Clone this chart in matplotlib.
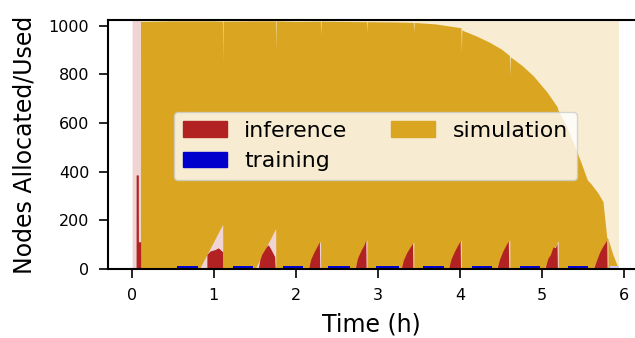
import matplotlib
matplotlib.use("Agg")
import matplotlib.pyplot as plt
from matplotlib.patches import Patch

# simulation: nodes allocated (light) and used (dark), time in hours
sim_alloc_t = [0.104, 5.935]
sim_alloc_v = [1024, 1024]
sim_used_t = [0.104, 0.106, 0.5, 1.0, 1.105, 1.108, 1.112, 1.5, 1.750, 1.754,
              1.758, 2.0, 2.298, 2.302, 2.306, 2.6, 2.862, 2.866, 2.87, 3.2,
              3.43, 3.434, 3.44, 3.7, 4.01, 4.016, 4.02, 4.04, 4.2, 4.36,
              4.5, 4.60, 4.605, 4.61, 4.75, 4.89, 5.06, 5.18, 5.19, 5.3,
              5.38, 5.47, 5.55, 5.59, 5.68, 5.74, 5.786, 5.80, 5.86, 5.93]
sim_used_v = [0, 1018, 1020, 1020, 1019, 848, 1019, 1020, 1020, 900,
              1020, 1018, 1019, 960, 1019, 1018, 1017, 970, 1017, 1016,
              1014, 975, 1014, 1008, 992, 888, 984, 980, 958, 932,
              905, 878, 791, 873, 838, 795, 727, 668, 655, 585,
              518, 440, 366, 352, 312, 277, 130, 125, 60, 0]

# inference: allocated (light) and used (dark)
inf_alloc_t = [0.004, 0.104, 0.105, 0.823, 1.108, 1.109, 1.502, 1.754, 1.755,
               2.14, 2.30, 2.301, 2.71, 2.865, 2.866, 3.27, 3.435, 3.436,
               3.85, 4.015, 4.016, 4.435, 4.605, 4.606, 5.02, 5.195, 5.196,
               5.61, 5.80, 5.801]
inf_alloc_v = [1024, 1024, 0, 0, 184, 0, 0, 167, 0,
               0, 115, 0, 0, 122, 0, 0, 112, 0,
               0, 120, 0, 0, 121, 0, 0, 117, 0,
               0, 125, 0]
inf_used_t = [0.053, 0.054, 0.080, 0.081, 0.108, 0.109,
              0.915, 0.916, 0.954, 1.015, 1.055, 1.096, 1.107, 1.108,
              1.540, 1.560, 1.583, 1.644, 1.665, 1.700, 1.740, 1.748,
              2.151, 2.18, 2.22, 2.26, 2.285, 2.290,
              2.720, 2.75, 2.79, 2.83, 2.850, 2.855,
              3.280, 3.31, 3.35, 3.39, 3.420, 3.425,
              3.857, 3.89, 3.93, 3.97, 4.000, 4.005,
              4.445, 4.48, 4.52, 4.56, 4.587, 4.592,
              5.030, 5.07, 5.10, 5.13, 5.16, 5.180, 5.185,
              5.620, 5.66, 5.70, 5.74, 5.786, 5.790]
inf_used_v = [0, 387, 387, 112, 112, 0,
              0, 60, 74, 80, 87, 74, 72, 0,
              0, 38, 60, 94, 99, 78, 52, 0,
              0, 40, 70, 95, 112, 0,
              0, 45, 75, 100, 119, 0,
              0, 38, 68, 90, 106, 0,
              0, 42, 72, 98, 115, 0,
              0, 40, 74, 100, 115, 0,
              0, 45, 60, 90, 88, 106, 0,
              0, 35, 70, 95, 119, 0]

# training: used (dark) and allocated (light) intervals
train_start = [0.548, 1.23, 1.84, 2.395, 2.98, 3.55, 4.14, 4.73, 5.32]
train_end = [0.81, 1.48, 2.09, 2.66, 3.25, 3.80, 4.385, 4.97, 5.56]
train_used = [14, 14, 14, 14, 14, 14, 14, 14, 14]
train_alloc_start = [5.83]
train_alloc_end = [5.93]
train_alloc = [14]

sim_dark = "#daa520"
sim_light = "#f8edd2"
inf_dark = "#b22222"
inf_light = "#f0d3d3"
tr_dark = "#0000cd"
tr_light = "#ccccf5"

fig = plt.figure(figsize=(6.35, 3.38), dpi=100)
ax = fig.add_axes([108 / 635, 1 - 269 / 338, 1 - 108 / 635, 249 / 338])

ax.fill_between(sim_alloc_t, 0, sim_alloc_v, color=sim_light, lw=0)
ax.fill_between(sim_used_t, 0, sim_used_v, color=sim_dark, lw=0)
ax.fill_between(inf_alloc_t, 0, inf_alloc_v, color=inf_light, lw=0)
ax.fill_between(inf_used_t, 0, inf_used_v, color=inf_dark, lw=0)
ax.bar(train_alloc_start, train_alloc,
       width=[e - s for s, e in zip(train_alloc_start, train_alloc_end)],
       align="edge", color=tr_light, lw=0)
ax.bar(train_start, train_used,
       width=[e - s for s, e in zip(train_start, train_end)],
       align="edge", color=tr_dark, lw=0)

ax.set_xlim(-0.289, 6.13)
ax.set_ylim(0, 1024)
ax.set_xticks(range(0, 7))
ax.set_yticks(range(0, 1001, 200))
ax.tick_params(direction="out", length=6.5, width=1.2, labelsize=11.5, pad=7)
for s in ["left", "bottom", "top"]:
    ax.spines[s].set_linewidth(1.5)
ax.spines["right"].set_visible(False)

ax.set_xlabel("Time (h)", fontsize=17, labelpad=7)
ax.set_ylabel("Nodes Allocated/Used", fontsize=17, labelpad=9)

handles = [Patch(color=inf_dark, label="inference"),
           Patch(color=tr_dark, label="training"),
           Patch(color=sim_dark, label="simulation")]
ax.legend(handles=handles, ncol=2, fontsize=15.8, loc="center",
          bbox_to_anchor=(375.5 / 635, 1 - 146 / 338),
          bbox_transform=fig.transFigure)

fig.savefig("out.png", dpi=100)
